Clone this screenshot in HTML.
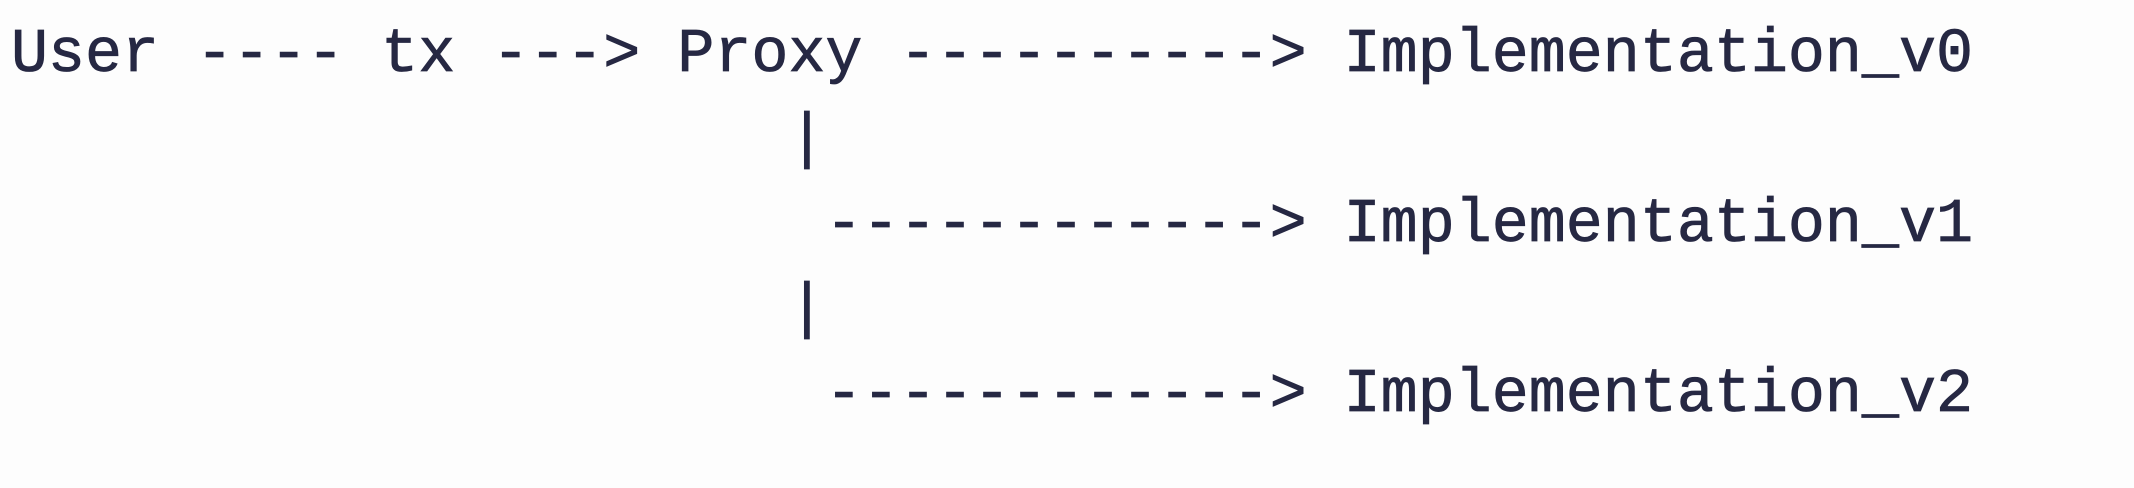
<!DOCTYPE html>
<html>
<head>
<meta charset="utf-8">
<style>
html,body{margin:0;padding:0;background:#fdfdfd;width:2134px;height:488px;overflow:hidden;}
pre{
  margin:0;
  position:absolute;
  left:11px;
  top:13px;
  font-family:"Liberation Mono",monospace;
  font-size:61.7px;
  line-height:85px;
  color:#262843;
  -webkit-text-stroke:0.8px #262843;
  white-space:pre;
}
</style>
</head>
<body>
<pre>User ---- tx ---&gt; Proxy ----------&gt; Implementation_v0
                     |
                      ------------&gt; Implementation_v1
                     |
                      ------------&gt; Implementation_v2</pre>
</body>
</html>
